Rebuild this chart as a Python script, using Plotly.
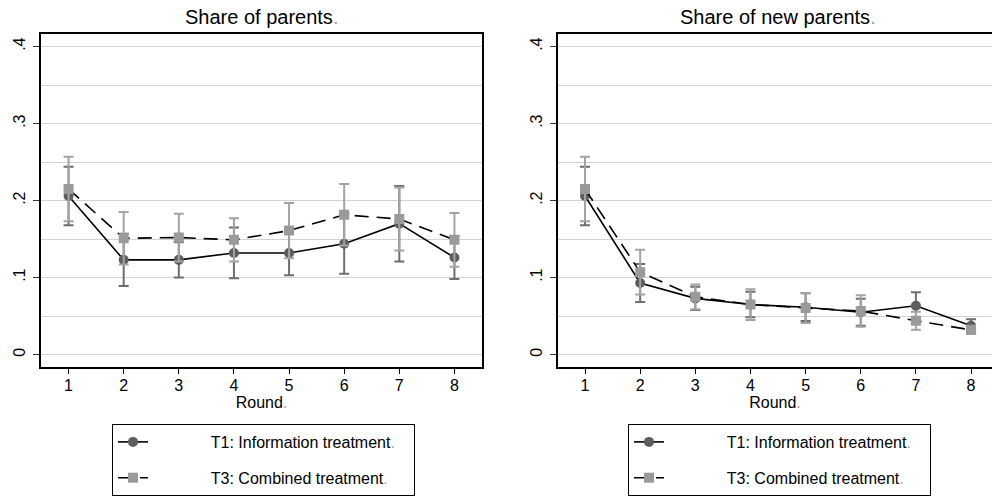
import plotly.graph_objects as go

# ---------------- data ----------------
rounds = [1, 2, 3, 4, 5, 6, 7, 8]

parents_t1 = [0.206, 0.123, 0.123, 0.132, 0.132, 0.144, 0.170, 0.126]
parents_t1_ci = [0.038, 0.034, 0.023, 0.033, 0.029, 0.039, 0.049, 0.028]
parents_t3 = [0.215, 0.151, 0.152, 0.149, 0.161, 0.1815, 0.176, 0.149]
parents_t3_ci = [0.042, 0.034, 0.031, 0.028, 0.036, 0.040, 0.041, 0.035]

new_t1 = [0.206, 0.093, 0.073, 0.065, 0.0615, 0.055, 0.0634, 0.0375]
new_t1_ci = [0.038, 0.0247, 0.015, 0.0165, 0.018, 0.0175, 0.0176, 0.0085]
new_t3 = [0.215, 0.107, 0.075, 0.065, 0.0605, 0.0565, 0.044, 0.032]
new_t3_ci = [0.042, 0.029, 0.016, 0.020, 0.0195, 0.0205, 0.0117, 0.0053]

y_tickvals = [0, 0.1, 0.2, 0.3, 0.4]
y_ticktext = ["0", ".1", ".2", ".3", ".4"]

titles = ["Share of parents", "Share of new parents"]
series_names = ["T1: Information treatment", "T3: Combined treatment"]
x_title = "Round"

# ---------------- styling ----------------
W, H = 992, 496
FONT = "Liberation Sans, Arial, sans-serif"
DOT = "<span style='color:#a0a0a0'>.</span>"
PAD_L = "\u00a0" * 13
PAD_R = "\u00a0" * 3

T1_LINE = "#000000"
T1_MARK = "#5e5e5e"
T1_ERR = "#6e6e6e"
T3_LINE = "#000000"
T3_MARK = "#9a9a9a"
T3_ERR = "#a3a3a3"

fig = go.Figure()

panels = [
    (parents_t1, parents_t1_ci, parents_t3, parents_t3_ci, "x", "y", "legend"),
    (new_t1, new_t1_ci, new_t3, new_t3_ci, "x2", "y2", "legend2"),
]

for t1, t1ci, t3, t3ci, xa, ya, lg in panels:
    fig.add_trace(go.Scatter(
        x=rounds, y=t1, xaxis=xa, yaxis=ya, legend=lg,
        name=PAD_L + series_names[0] + DOT + PAD_R, legendgroup="t1" + lg,
        mode="lines+markers",
        line=dict(color=T1_LINE, width=1.6),
        marker=dict(symbol="circle", size=10, color=T1_MARK),
        error_y=dict(type="data", array=t1ci, symmetric=True,
                     color=T1_ERR, thickness=2, width=5),
    ))
    fig.add_trace(go.Scatter(
        x=rounds, y=t3, xaxis=xa, yaxis=ya, legend=lg,
        name=PAD_L + series_names[1] + DOT + PAD_R, legendgroup="t3" + lg,
        mode="lines+markers",
        line=dict(color=T3_LINE, width=1.6, dash="14px,8px"),
        marker=dict(symbol="square", size=10, color=T3_MARK),
        error_y=dict(type="data", array=t3ci, symmetric=True,
                     color=T3_ERR, thickness=2, width=5),
    ))

ydom = [1 - 368 / H, 1 - 34 / H]
yrange = [-0.0155, 0.4165]

common_x = dict(
    tickvals=rounds, ticktext=[str(r) for r in rounds],
    ticks="outside", ticklen=6, tickwidth=1.2, tickcolor="#000",
    ticklabelstandoff=-3,
    showline=True, linecolor="#000", linewidth=1.6, mirror=True,
    showgrid=False, zeroline=False,
    tickfont=dict(family=FONT, size=16, color="#000"),
    title=dict(text=x_title + DOT, font=dict(family=FONT, size=16, color="#000"), standoff=3),
)
common_y = dict(
    range=yrange, domain=ydom,
    tickvals=y_tickvals, ticktext=y_ticktext, tickangle=-90,
    ticks="outside", ticklen=6, tickwidth=1.2, tickcolor="#333",
    ticklabelstandoff=2,
    showline=True, linecolor="#000", linewidth=1.6,
    showgrid=True, gridcolor="#d2d2d2", gridwidth=1.2,
    minor=dict(dtick=0.05, tick0=0, showgrid=True, gridcolor="#d2d2d2", gridwidth=1.2, ticks=""),
    zeroline=False,
    tickfont=dict(family=FONT, size=16, color="#000"),
)

legend_style = dict(
    y=1 - 426 / H, xanchor="left", yanchor="top",
    bordercolor="#000", borderwidth=1, bgcolor="white",
    font=dict(family=FONT, size=16, color="#000"),
    tracegroupgap=12, itemwidth=30,
)

fig.update_layout(
    width=W, height=H,
    margin=dict(l=0, r=0, t=0, b=0),
    paper_bgcolor="white", plot_bgcolor="white",
    font=dict(family=FONT, size=16, color="#000"),
    xaxis=dict(domain=[41 / W, 482 / W], range=[0.5, 8.5], anchor="y", **common_x),
    yaxis=dict(anchor="x", mirror=True, **common_y),
    xaxis2=dict(domain=[558 / W, 1.0], range=[0.51, 8.38], anchor="y2", **common_x),
    yaxis2=dict(anchor="x2", mirror=False, **common_y),
    legend=dict(x=112 / W, **legend_style),
    legend2=dict(x=628 / W, **legend_style),
    annotations=[
        dict(text=titles[0] + DOT, x=261.5 / W, y=1 - 17 / H, xref="paper", yref="paper",
             xanchor="center", yanchor="middle", showarrow=False,
             font=dict(family=FONT, size=20, color="#000")),
        dict(text=titles[1] + DOT, x=778 / W, y=1 - 17 / H, xref="paper", yref="paper",
             xanchor="center", yanchor="middle", showarrow=False,
             font=dict(family=FONT, size=20, color="#000")),
    ],
)

fig.write_html("out.html", config={"displayModeBar": False},
               post_script="document.body.style.margin='0px';")
